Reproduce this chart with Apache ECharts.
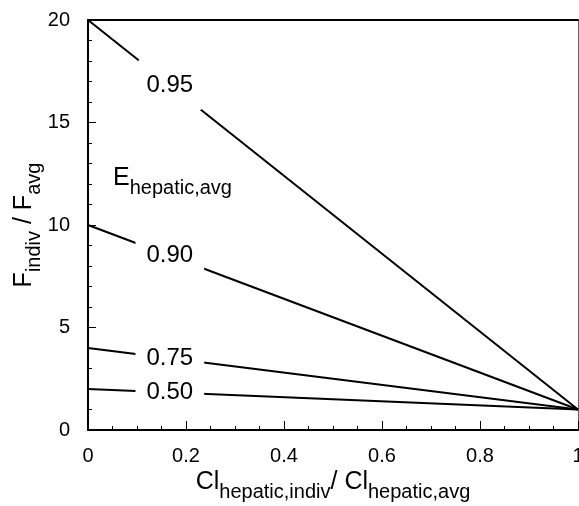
<!DOCTYPE html>
<html>
<head>
<meta charset="utf-8">
<script src="https://cdn.jsdelivr.net/npm/echarts@6/dist/echarts.min.js"></script>
<style>
html,body{margin:0;padding:0;background:#fff;}
#chart{width:579px;height:506px;}
</style>
</head>
<body>
<div id="chart"></div>
<script>
// Average hepatic extraction ratios, one line each
const extractionRatios = [0.95, 0.90, 0.75, 0.50];
const extractionLabels = ['0.95', '0.90', '0.75', '0.50'];
// Relative clearance (x) at the two ends of each line
const clearanceRatio = [0, 1];
// Relative bioavailability at clearance ratio 0 and 1 for each line
const bioRatioAtZero = [20, 10, 4, 2];
const bioRatioAtOne = [1, 1, 1, 1];
// x position along each line where its E label sits
const labelAtX = 0.167;

const xTicks = [0, 0.2, 0.4, 0.6, 0.8, 1];
const yTicks = [0, 5, 10, 15, 20];

const FONT = '"Liberation Sans", Arial, sans-serif';
const MAIN = 25, SUB = 20;

const richName = {
  m: { fontFamily: FONT, fontSize: MAIN, color: '#000', verticalAlign: 'top', lineHeight: 27 },
  s: { fontFamily: FONT, fontSize: SUB, color: '#000', verticalAlign: 'top', padding: [12, 0, 0, 0] }
};

const series = extractionRatios.map((e, i) => {
  const y0 = bioRatioAtZero[i], y1 = bioRatioAtOne[i];
  const yLab = y0 + (y1 - y0) * (labelAtX - clearanceRatio[0]) / (clearanceRatio[1] - clearanceRatio[0]);
  // the steep top line needs a taller white gap around its label
  const pad = i === 0 ? [13, 8, 13, 8] : [3, 11, 3, 11];
  return {
    type: 'line',
    name: extractionLabels[i],
    data: [[clearanceRatio[0], y0], [clearanceRatio[1], y1]],
    symbol: 'none',
    lineStyle: { color: '#000', width: 2 },
    clip: false,
    z: 3,
    markPoint: {
      symbol: 'rect',
      symbolSize: 0,
      silent: true,
      data: [{ coord: [labelAtX, yLab] }],
      label: {
        show: true,
        position: 'inside',
        formatter: extractionLabels[i],
        fontFamily: FONT,
        fontSize: 24,
        color: '#000',
        backgroundColor: '#fff',
        padding: pad
      }
    }
  };
});

const chart = echarts.init(document.getElementById('chart'), null, { renderer: 'canvas' });
chart.setOption({
  animation: false,
  backgroundColor: '#fff',
  grid: { left: 88, top: 20, right: 1, bottom: 76, outerBoundsMode: 'none', containLabel: false },
  xAxis: [{
    type: 'value',
    min: 0, max: 1, interval: 0.2,
    axisLine: { onZero: false, lineStyle: { color: '#000', width: 2 } },
    axisTick: { inside: true, length: 9, lineStyle: { color: '#000', width: 1 } },
    minorTick: { show: true, splitNumber: 4, length: 4, lineStyle: { color: '#000', width: 1 } },
    splitLine: { show: false },
    axisLabel: {
      margin: 16, fontFamily: FONT, fontSize: 20, color: '#000',
      hideOverlap: false,
      formatter: v => { const t = xTicks.find(k => Math.abs(k - v) < 1e-9); return t === undefined ? '' : String(t); }
    },
    name: '{m|Cl}{s|hepatic,indiv}{m|/ Cl}{s|hepatic,avg}',
    nameLocation: 'middle',
    nameGap: 40,
    nameMoveOverlap: false,
    nameTextStyle: { rich: richName }
  }, {
    type: 'value', position: 'top', min: 0, max: 1,
    axisLine: { show: true, onZero: false, lineStyle: { color: '#000', width: 2 } },
    axisTick: { show: false }, axisLabel: { show: false }, splitLine: { show: false }
  }],
  yAxis: [{
    type: 'value',
    min: 0, max: 20, interval: 5,
    axisLine: { show: true, onZero: false, lineStyle: { color: '#000', width: 2 } },
    axisTick: { inside: true, length: 8, lineStyle: { color: '#000', width: 1 } },
    minorTick: { show: true, splitNumber: 5, length: 4, lineStyle: { color: '#000', width: 1 } },
    splitLine: { show: false },
    axisLabel: { margin: 18, fontFamily: FONT, fontSize: 20, color: '#000' },
    name: '{m|F}{s|indiv}{m| / F}{s|avg}',
    nameLocation: 'middle',
    nameRotate: 90,
    nameGap: 44,
    nameMoveOverlap: false,
    nameTextStyle: { rich: richName }
  }, {
    type: 'value', position: 'right', min: 0, max: 20,
    axisLine: { show: true, onZero: false, lineStyle: { color: '#666', width: 1 } },
    axisTick: { show: false }, axisLabel: { show: false }, splitLine: { show: false }
  }],
  graphic: [{
    type: 'text',
    left: 113,
    top: 166,
    style: {
      text: '{m|E}{s|hepatic,avg}',
      rich: {
        m: { fontFamily: FONT, fontSize: MAIN, fill: '#000', verticalAlign: 'top', lineHeight: 27 },
        s: { fontFamily: FONT, fontSize: SUB, fill: '#000', verticalAlign: 'top', padding: [12, 0, 0, 0] }
      }
    }
  }],
  series: series
});
</script>
</body>
</html>
